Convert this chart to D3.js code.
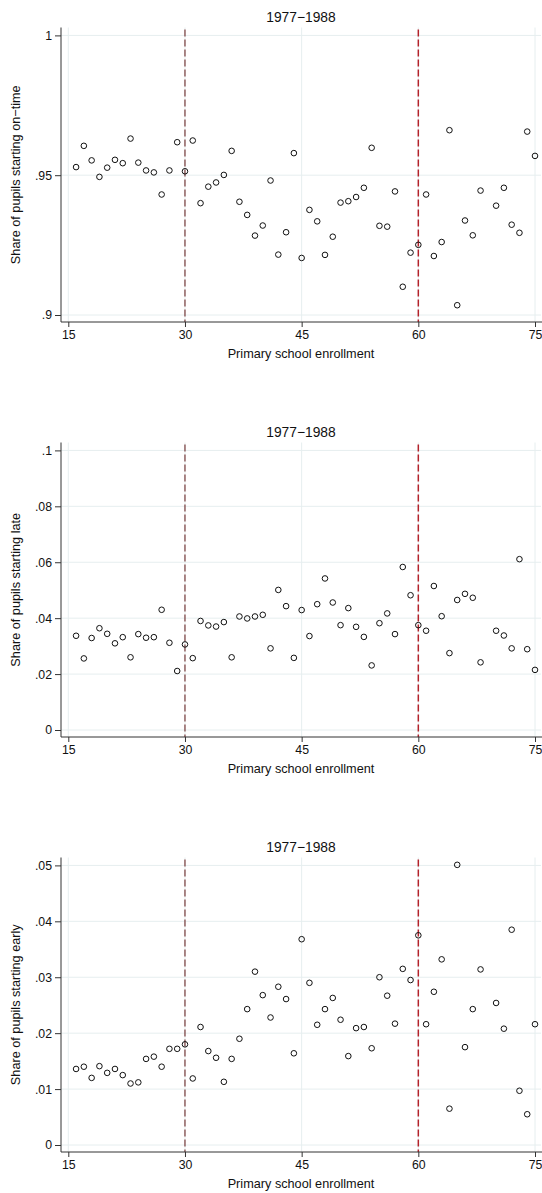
<!DOCTYPE html>
<html>
<head>
<meta charset="utf-8">
<script src="https://cdn.jsdelivr.net/npm/d3@7"></script>
<style>
  body { margin: 0; background: #fff; }
  svg { display: block; font-family: "Liberation Sans", Arial, Helvetica, sans-serif; }
</style>
</head>
<body>
<svg id="chart" width="542" height="1193"></svg>
<script>
// enrollment values (69 has no observation)
const enrollment = [16,17,18,19,20,21,22,23,24,25,26,27,28,29,30,31,32,33,34,35,36,37,38,39,40,
  41,42,43,44,45,46,47,48,49,50,51,52,53,54,55,56,57,58,59,60,61,62,63,64,65,66,67,68,70,71,72,73,74,75];

const onTime = [.9529,.9605,.9553,.9494,.9527,.9555,.9543,.9631,.9545,.9517,.9510,.9431,.9517,.9618,.9514,
  .9624,.9400,.9459,.9474,.9501,.9587,.9405,.9358,.9284,.9320,.9481,.9216,.9296,.9579,.9204,
  .9376,.9335,.9215,.9280,.9402,.9407,.9422,.9455,.9598,.9319,.9316,.9442,.9101,.9223,.9251,
  .9431,.9211,.9261,.9661,.9035,.9338,.9285,.9445,.9391,.9455,.9323,.9294,.9656,.9569];

const late = [.0337,.0256,.0329,.0364,.0344,.0310,.0332,.0260,.0343,.0330,.0332,.0430,.0312,.0211,.0306,
  .0257,.0390,.0374,.0370,.0386,.0260,.0406,.0399,.0406,.0412,.0292,.0501,.0443,.0258,.0429,
  .0336,.0450,.0542,.0456,.0375,.0436,.0369,.0333,.0231,.0382,.0417,.0343,.0583,.0482,.0375,
  .0355,.0515,.0407,.0275,.0465,.0487,.0473,.0242,.0355,.0338,.0292,.0611,.0289,.0215];

const early = [.0136,.0140,.0120,.0141,.0129,.0136,.0125,.0110,.0112,.0154,.0158,.0140,.0172,.0172,.0180,
  .0119,.0211,.0168,.0156,.0113,.0154,.0190,.0243,.0310,.0268,.0228,.0283,.0261,.0164,.0368,
  .0290,.0215,.0243,.0263,.0224,.0159,.0209,.0211,.0173,.0300,.0267,.0217,.0315,.0295,.0375,
  .0216,.0274,.0332,.0065,.0501,.0175,.0243,.0314,.0254,.0208,.0385,.0097,.0055,.0216];

const xTicks = [15, 30, 45, 60, 75];
const cutoffs = [30, 60];

const panels = [
  { values: onTime, label: 'Share of pupils starting on\u2212time', domain: [0.9, 1],
    ticks: [0.9, 0.95, 1], tickLabels: ['.9', '.95', '1'] },
  { values: late, label: 'Share of pupils starting late', domain: [0, 0.1],
    ticks: [0, 0.02, 0.04, 0.06, 0.08, 0.1], tickLabels: ['0', '.02', '.04', '.06', '.08', '.1'] },
  { values: early, label: 'Share of pupils starting early', domain: [0, 0.05],
    ticks: [0, 0.01, 0.02, 0.03, 0.04, 0.05], tickLabels: ['0', '.01', '.02', '.03', '.04', '.05'] }
];

const svg = d3.select('#chart');
const panelStep = 415;
const plot = { left: 61, right: 541, top: 27.5, bottom: 322 };
const gridColor = '#e6eeef';

const x = d3.scaleLinear().domain([15, 75]).range([68.3, 535]);

panels.forEach((p, i) => {
    const g = svg.append('g').attr('transform', `translate(0, ${i * panelStep})`);
    const y = d3.scaleLinear().domain(p.domain).range([315, 35.4]);

    // title
    g.append('text')
        .attr('x', (plot.left + plot.right) / 2)
        .attr('y', 21.5)
        .attr('text-anchor', 'middle')
        .attr('font-size', '13.8px')
        .attr('fill', '#111')
        .text('1977\u22121988');

    // gridlines
    g.append('g').selectAll('line')
        .data(p.ticks)
        .enter().append('line')
        .attr('x1', plot.left).attr('x2', plot.right)
        .attr('y1', d => y(d)).attr('y2', d => y(d))
        .attr('stroke', gridColor).attr('stroke-width', 1);

    g.append('g').selectAll('line')
        .data(xTicks)
        .enter().append('line')
        .attr('x1', d => x(d)).attr('x2', d => x(d))
        .attr('y1', plot.top).attr('y2', plot.bottom)
        .attr('stroke', gridColor).attr('stroke-width', 1);

    // cutoff lines
    g.append('line')
        .attr('x1', x(cutoffs[0])).attr('x2', x(cutoffs[0]))
        .attr('y1', plot.top + 2).attr('y2', plot.bottom)
        .attr('stroke', '#5e1414').attr('stroke-width', 1)
        .attr('stroke-dasharray', '7,3');

    g.append('line')
        .attr('x1', x(cutoffs[1])).attr('x2', x(cutoffs[1]))
        .attr('y1', plot.top + 2).attr('y2', plot.bottom)
        .attr('stroke', '#b3222a').attr('stroke-width', 1.5)
        .attr('stroke-dasharray', '7,3');

    // points
    g.append('g').selectAll('circle')
        .data(enrollment.map((e, k) => ({ e, v: p.values[k] })))
        .enter().append('circle')
        .attr('cx', d => x(d.e))
        .attr('cy', d => y(d.v))
        .attr('r', 2.8)
        .attr('fill', 'none')
        .attr('stroke', '#111')
        .attr('stroke-width', 1);

    // y axis
    const yAxis = g.append('g')
        .attr('transform', `translate(${plot.left}, 0)`)
        .call(d3.axisLeft(y).tickValues(p.ticks).tickFormat((d, k) => p.tickLabels[k]).tickSize(6).tickPadding(3));
    yAxis.select('.domain').attr('d', `M0,${plot.top}V${plot.bottom}`).attr('stroke', '#333');
    yAxis.selectAll('.tick line').attr('stroke', '#333');
    yAxis.selectAll('.tick text').attr('font-size', '12.3px').attr('fill', '#111').attr('font-family', null);

    // x axis
    const xAxis = g.append('g')
        .attr('transform', `translate(0, ${plot.bottom})`)
        .call(d3.axisBottom(x).tickValues(xTicks).tickSize(5).tickPadding(3));
    xAxis.select('.domain').attr('d', `M${plot.left},0H${plot.right + 1}`).attr('stroke', '#333');
    xAxis.selectAll('.tick line').attr('stroke', '#333');
    xAxis.selectAll('.tick text').attr('font-size', '12.3px').attr('fill', '#111').attr('font-family', null);

    // axis titles
    g.append('text')
        .attr('x', (plot.left + plot.right) / 2)
        .attr('y', 358)
        .attr('text-anchor', 'middle')
        .attr('font-size', '12.7px')
        .attr('fill', '#111')
        .text('Primary school enrollment');

    g.append('text')
        .attr('transform', `translate(20, ${(plot.top + plot.bottom) / 2}) rotate(-90)`)
        .attr('text-anchor', 'middle')
        .attr('font-size', '12.7px')
        .attr('fill', '#111')
        .text(p.label);
});
</script>
</body>
</html>
